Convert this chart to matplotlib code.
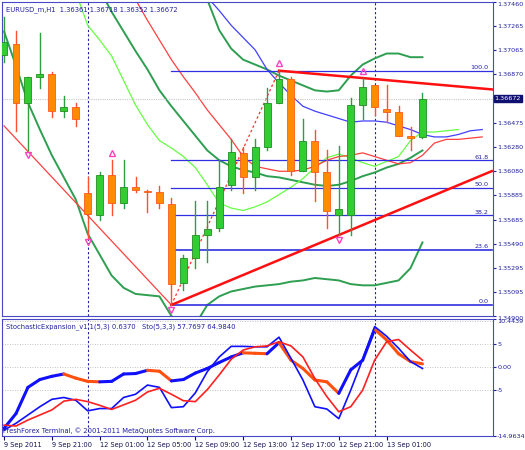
import matplotlib.pyplot as plt
import numpy as np

# --- price data (H1 bars, EURUSD) ---
opens = [1.3703, 1.3712, 1.3664, 1.3685, 1.3687, 1.3657, 1.3660, 1.3590, 1.3572, 1.3605,
         1.3582, 1.3595, 1.3592, 1.3591, 1.3581, 1.3517, 1.3537, 1.3556, 1.3562, 1.3597,
         1.3623, 1.3603, 1.3628, 1.3664, 1.3683, 1.3608, 1.3633, 1.3607, 1.3572, 1.3572,
         1.3662, 1.3678, 1.3659, 1.3656, 1.3637, 1.36361]
highs = [1.3734, 1.3722, 1.3685, 1.3721, 1.3689, 1.3669, 1.3664, 1.3603, 1.3607, 1.3617,
         1.3617, 1.3603, 1.3593, 1.3596, 1.3586, 1.3540, 1.3584, 1.3584, 1.3617, 1.3634,
         1.3628, 1.3634, 1.3676, 1.3690, 1.3685, 1.3651, 1.3642, 1.3625, 1.3629, 1.3668,
         1.3684, 1.3678, 1.3678, 1.3661, 1.3644, 1.36718]
lows = [1.3697, 1.3641, 1.3625, 1.3676, 1.3652, 1.3652, 1.3645, 1.3554, 1.3568, 1.3572,
        1.3578, 1.3591, 1.3575, 1.3578, 1.3499, 1.3511, 1.3529, 1.3534, 1.3559, 1.3593,
        1.3590, 1.3593, 1.3625, 1.3664, 1.3605, 1.3608, 1.3584, 1.3562, 1.3556, 1.3556,
        1.3651, 1.3654, 1.3648, 1.3637, 1.3625, 1.36352]
closes = [1.3713, 1.3664, 1.3685, 1.3687, 1.3657, 1.3660, 1.3651, 1.3573, 1.3605, 1.3582,
          1.3595, 1.3593, 1.3591, 1.3582, 1.3516, 1.3537, 1.3556, 1.3561, 1.3595, 1.3624,
          1.3603, 1.3628, 1.3664, 1.3683, 1.3608, 1.3633, 1.3607, 1.3576, 1.3577, 1.3662,
          1.3677, 1.3660, 1.3656, 1.3637, 1.3635, 1.36672]

bar_times = (["9 Sep %02d:00" % h for h in range(17, 24)] +
             ["12 Sep %02d:00" % h for h in range(24)] +
             ["13 Sep %02d:00" % h for h in range(5)])

# bands / moving averages: (start bar, values)
band_low = (0, [1.3722, 1.3694, 1.3664, 1.3642, 1.3621, 1.3603, 1.3585, 1.3557, 1.3540, 1.3523,
                1.3513, 1.3508, 1.3507, 1.3506, 1.3490, 1.3483, 1.3483, 1.3499, 1.3506, 1.3510,
                1.3512, 1.3514, 1.3515, 1.3516, 1.3518, 1.3519, 1.3521, 1.3520, 1.3519, 1.3516,
                1.3515, 1.3515, 1.3517, 1.3519, 1.3529, 1.3550])
band_up = (16, [1.3780, 1.3748, 1.3723, 1.3708, 1.3699, 1.3695, 1.3691, 1.3686, 1.3682, 1.3678,
                1.3674, 1.3673, 1.3674, 1.3686, 1.3695, 1.3700, 1.3704, 1.3704, 1.3701, 1.3701])
band_mid = (8, [1.3756, 1.3738, 1.3722, 1.3706, 1.3691, 1.3674, 1.3661, 1.3649, 1.3637, 1.3625,
                1.3617, 1.3612, 1.3609, 1.3607, 1.3604, 1.3603, 1.3601, 1.3599, 1.3597, 1.3596,
                1.3597, 1.3600, 1.3604, 1.3607, 1.3611, 1.3614, 1.3619, 1.3625])
lips = (6, [1.3754, 1.3727, 1.3715, 1.3702, 1.3682, 1.3662, 1.3646, 1.3633, 1.3627, 1.3620,
            1.3611, 1.3597, 1.3582, 1.3578, 1.3576, 1.3579, 1.3583, 1.3589, 1.3595, 1.3602,
            1.3611, 1.3619, 1.3622, 1.3619, 1.3615, 1.3612, 1.3616, 1.3620, 1.3633, 1.3640,
            1.3640, 1.3641, 1.3642])
teeth = (11, [1.3748, 1.3731, 1.3715, 1.3699, 1.3685, 1.3672, 1.3658, 1.3646, 1.3634, 1.3620,
              1.3612, 1.3610, 1.3608, 1.3608, 1.3609, 1.3612, 1.3617, 1.3620, 1.3621, 1.3623,
              1.3620, 1.3617, 1.3614, 1.3615, 1.3621, 1.3631, 1.3634, 1.3634, 1.3635, 1.3636])
jaw = (17, [1.3750, 1.3739, 1.3727, 1.3717, 1.3707, 1.3691, 1.3680, 1.3670, 1.3661, 1.3657,
            1.3654, 1.3651, 1.3648, 1.3649, 1.3649, 1.3648, 1.3645, 1.3642, 1.3638, 1.3636,
            1.3636, 1.3638, 1.3641, 1.3642])
prev_leg = ([0, 7, 14], [1.3645, 1.3572, 1.3499])

fractal_up = [9, 23, 30]
fractal_down = [2, 7, 14, 28]
fib_levels = [0.0, 23.6, 38.2, 50.0, 61.8, 100.0]

# stochastic panel
stoch_exp = [-13.3, -10.1, -4.4, -2.7, -2.0, -1.5, -2.4, -3.1, -3.2, -3.1, -1.5, -1.4, -0.7, -0.9,
             -3.0, -2.7, -1.3, -0.3, 1.0, 2.2, 3.1, 3.0, 2.9, 5.3, 1.5, -0.3, -2.8, -3.2, -5.7,
             -0.6, 1.5, 8.2, 5.9, 2.9, 1.2, 0.7]
sto_main = [-13.7, -12.2, -10.4, -8.6, -7.0, -6.6, -7.2, -9.5, -9.0, -9.0, -6.6, -5.9, -3.9, -4.4,
            -8.8, -8.6, -5.6, -1.0, 2.2, 4.5, 4.5, 4.4, 4.4, 6.5, 1.9, -2.8, -8.6, -9.1, -11.2,
            -5.0, 1.7, 8.8, 6.7, 4.1, 1.2, -0.3]
sto_signal = [-12.6, -12.8, -11.5, -10.4, -9.3, -7.4, -7.0, -7.5, -8.3, -9.2, -8.2, -7.2, -5.4,
              -4.6, -5.9, -7.3, -7.5, -4.9, -1.7, 1.7, 3.7, 4.4, 4.6, 5.5, 4.6, 2.2, -2.5, -6.4,
              -9.7, -8.6, -5.0, 1.5, 5.5, 6.0, 3.7, 1.5]

NAVY = "#2020a0"
AXC = "#4848c8"
FS = 4.6

fig = plt.figure(figsize=(5.25, 4.5), dpi=100)
ax = fig.add_axes([2/525, 134/450, 491/525, 314/450])
ax2 = fig.add_axes([2/525, 14/450, 491/525, 117/450])

n = len(opens)
for a in (ax, ax2):
    a.set_facecolor("white")
    for s in a.spines.values():
        s.set_color(AXC)
    a.axvline(7, color=NAVY, ls=(0, (2, 2)), lw=0.8)
    a.axvline(31, color=NAVY, ls=(0, (2, 2)), lw=0.8)
    a.set_xlim(-0.17, 40.9)

# indicator lines behind candles
def draw(series, color, lw):
    start, vals = series
    ax.plot(np.arange(start, start + len(vals)), vals, color=color, lw=lw)

draw(band_low, "#2e9e50", 1.4)
draw(band_up, "#2e9e50", 1.4)
draw(band_mid, "#2e9e50", 1.4)
draw(lips, "#66ff44", 0.9)
draw(teeth, "#ff4040", 0.9)
draw(jaw, "#4040ff", 0.9)
ax.plot(prev_leg[0], prev_leg[1], color="#ff4040", lw=0.9)

# fibonacci
lo_i, hi_i = 14, 23
lo, hi = lows[lo_i], highs[hi_i]
for lv in fib_levels:
    p = lo + (hi - lo) * lv / 100
    ax.plot([lo_i, 40.8], [p, p], color="#3030e0", lw=1.2 if lv in (0.0, 23.6) else 0.9)
    ax.text(40.5, p + 0.00005, "%.1f" % lv, color=NAVY, fontsize=FS, ha="right", va="bottom")

# zigzag leg
ax.plot([lo_i, hi_i], [lo, hi], color="#ff3030", lw=0.9, ls=(0, (2, 2)))

# trend lines through two bars, extended right
def trend(i1, p1, i2, p2):
    k = (p2 - p1) / (i2 - i1)
    ax.plot([i1, 40.8], [p1, p1 + k * (40.8 - i1)], color="#ff1010", lw=1.8)

trend(23, highs[23], 30, highs[30])
trend(14, lows[14], 28, lows[28])

# current price line
ax.axhline(closes[-1], color="#c8c8c8", ls=(0, (1, 1)), lw=0.8)

# candles
for i in range(n):
    up = closes[i] >= opens[i]
    body = "#33cc33" if up else "#ff8c00"
    edge = "#1f8f1f" if up else "#ff5a1a"
    wick = "#2e9e40" if up else "#ff5030"
    ax.plot([i, i], [lows[i], highs[i]], color=wick, lw=1, zorder=3)
    b0, b1 = sorted([opens[i], closes[i]])
    ax.bar(i, max(b1 - b0, 0.00003), 0.58, bottom=b0, color=body, edgecolor=edge, lw=0.6, zorder=4)

for i in fractal_up:
    ax.plot(i, highs[i] + 0.0006, marker="^", ms=4, mfc="none", mec="#ff40c0", mew=1, zorder=5)
for i in fractal_down:
    ax.plot(i, lows[i] - 0.0004, marker="v", ms=4, mfc="none", mec="#ff40c0", mew=1, zorder=5)

ax.set_ylim(1.34900, 1.37460)
ticks = [1.34900, 1.35095, 1.35295, 1.35490, 1.35685, 1.35885, 1.36080, 1.36280, 1.36475,
         1.36870, 1.37065, 1.37265, 1.37460]
ax.yaxis.tick_right()
ax.set_yticks(ticks)
ax.set_yticklabels(["%.5f" % t for t in ticks])
ax.tick_params(axis="y", labelsize=FS, colors=NAVY, length=2, pad=1)
ax.get_yticklabels()[0].set_va("top")
ax.get_yticklabels()[-1].set_va("top")
ax.set_xticks([])
ax.text(1.003, closes[-1], "%.5f" % closes[-1], transform=ax.get_yaxis_transform(),
        fontsize=FS, color="white", va="center", ha="left",
        bbox=dict(boxstyle="square,pad=0.15", fc="#101070", ec="#101070"))
ax.text(0.008, 0.985, "EURUSD_m,H1  %.5f %.5f %.5f %.5f" % (opens[-1], highs[-1], lows[-1], closes[-1]),
        transform=ax.transAxes, fontsize=FS + 0.3, color=NAVY, va="top")

# stochastic panel
for lv in (10, 5, 0, -5):
    ax2.axhline(lv, color="#b0b0b0", ls=(0, (1, 2)), lw=0.6)
xs = np.arange(len(stoch_exp))
for i in range(len(stoch_exp) - 1):
    c = "#1010ff" if stoch_exp[i + 1] >= stoch_exp[i] else "#ff5010"
    ax2.plot(xs[i:i + 2], stoch_exp[i:i + 2], color=c, lw=2.2, solid_capstyle="round")
ax2.plot(xs, sto_main, color="#1010ff", lw=1.2)
ax2.plot(xs, sto_signal, color="#ff2020", lw=1.2)
ax2.set_ylim(-14.9634, 10.4439)
ax2.yaxis.tick_right()
ax2.set_yticks([10.4439, 5, 0, -5, -14.9634])
ax2.set_yticklabels(["10.4439", "5", "0.00", "-5", "-14.9634"])
ax2.tick_params(axis="y", labelsize=FS, colors=NAVY, length=2, pad=1)
ax2.get_yticklabels()[0].set_va("top")
ax2.text(0.008, 0.96, "StochasticExpansion_v1.1(5,3) 0.6370   Sto(5,3,3) 57.7697 64.9840",
         transform=ax2.transAxes, fontsize=FS + 0.3, color=NAVY, va="top")
ax2.text(0.002, 0.02, "FreshForex Terminal, \u00a9 2001-2011 MetaQuotes Software Corp.",
         transform=ax2.transAxes, fontsize=FS + 0.3, color=NAVY, va="bottom")

xt = list(range(0, n, 4))
ax2.set_xticks(xt)
ax2.set_xticklabels(["9 Sep 2011"] + [bar_times[i] for i in xt[1:]], ha="left")
ax2.tick_params(axis="x", labelsize=FS + 0.2, colors="#101050", length=3, pad=1)

fig.savefig("out.png", dpi=100, facecolor="white")
